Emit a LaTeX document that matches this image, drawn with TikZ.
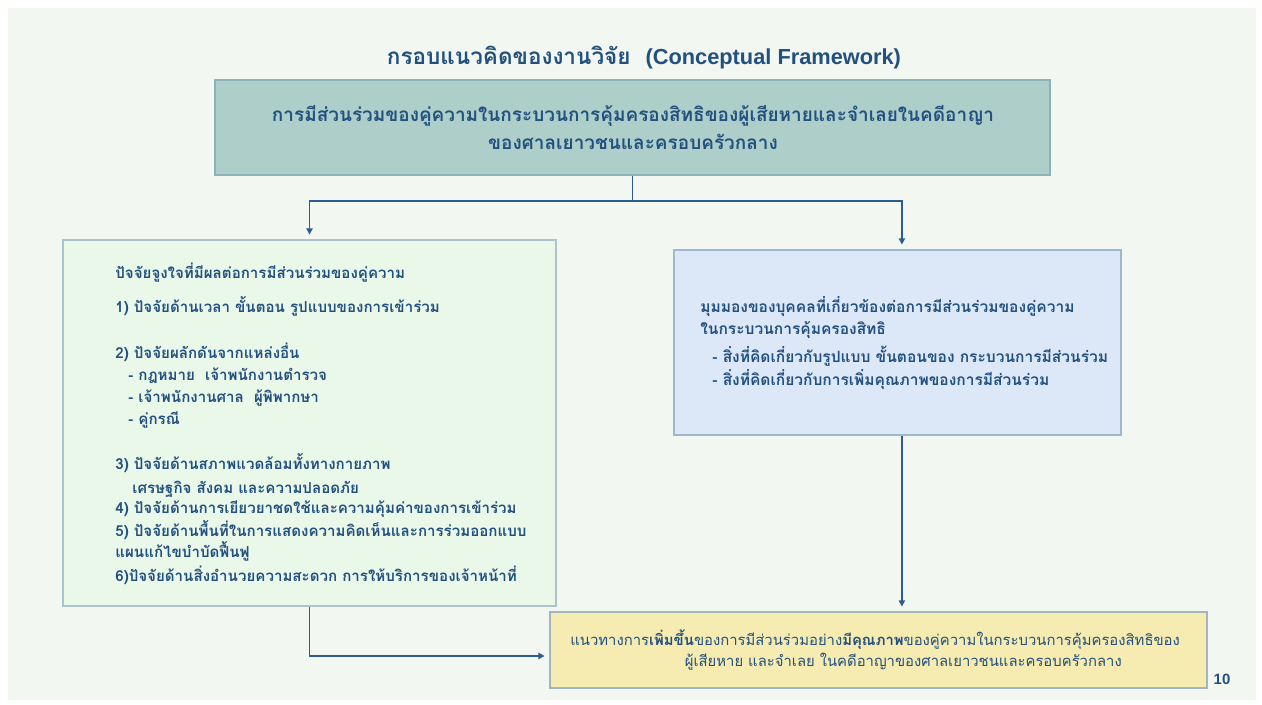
\documentclass[tikz,border=0pt]{standalone}
\usepackage{fontspec}
\setmainfont[Script=Thai]{Loma}
\newfontfamily\latinfont{Liberation Sans}
\usetikzlibrary{arrows.meta}
\definecolor{bgc}{HTML}{F3F7F1}
\definecolor{txtc}{HTML}{22507F}
\definecolor{arrc}{HTML}{2E5C90}
\definecolor{topfill}{HTML}{AECFC9}
\definecolor{topdraw}{HTML}{8DB3B9}
\definecolor{lfill}{HTML}{EAF8E9}
\definecolor{ldraw}{HTML}{A9C4CD}
\definecolor{rfill}{HTML}{DCE8F8}
\definecolor{rdraw}{HTML}{A0B7D2}
\definecolor{bfill}{HTML}{F6EBB0}
\definecolor{bdraw}{HTML}{A3B6C0}
\tikzset{
  box/.style={draw, line width=1.2pt, inner sep=0pt},
  txt/.style={anchor=base west, inner sep=0pt, text=txtc, font=\bfseries\fontsize{8.6pt}{10pt}\selectfont},
  rtxt/.style={anchor=base west, inner sep=0pt, text=txtc, font=\bfseries\fontsize{8.85pt}{10pt}\selectfont},
  btxt/.style={anchor=base west, inner sep=0pt, text=txtc, font=\fontsize{8.45pt}{10pt}\selectfont},
  conn/.style={draw=arrc, line width=1.1pt, -{Triangle[length=3.5pt,width=3.5pt]}, shorten >=2.5pt},
  link/.style={draw=arrc, line width=1.1pt}
}
\begin{document}
\begin{tikzpicture}[x=0.02cm,y=-0.02cm]
\useasboundingbox (0,0) rectangle (1262,704);
\fill[white] (0,0) rectangle (1262,704);
\fill[bgc] (8,8) rectangle (1256,700);

\node[text=txtc, font=\bfseries\fontsize{12.8pt}{15pt}\selectfont, anchor=base, inner sep=0pt] (title) at (644,64) {กรอบแนวคิดของงานวิจัย\ \ {\latinfont\fontsize{12.4pt}{15pt}\selectfont (Conceptual Framework)}};

\node[box, draw=topdraw, fill=topfill, minimum width=16.7cm, minimum height=1.9cm] (top) at (632.5,127.5) {};
\node[text=txtc, font=\bfseries\fontsize{10.8pt}{12pt}\selectfont, anchor=base, inner sep=0pt] (top1) at (633,121) {การมีส่วนร่วมของคู่ความในกระบวนการคุ้มครองสิทธิของผู้เสียหายและจำเลยในคดีอาญา};
\node[text=txtc, font=\bfseries\fontsize{10.8pt}{12pt}\selectfont, anchor=base, inner sep=0pt] (top2) at (633,149) {ของศาลเยาวชนและครอบครัวกลาง};

\node[box, draw=ldraw, fill=lfill, minimum width=9.86cm, minimum height=7.32cm] (lf) at (309.5,423) {};
\node[txt] (l0) at (115,278) {ปัจจัยจูงใจที่มีผลต่อการมีส่วนร่วมของคู่ความ};
\node[txt] (l1) at (115,312) {1) ปัจจัยด้านเวลา ขั้นตอน รูปแบบของการเข้าร่วม};
\node[txt] (l2) at (115,358) {2) ปัจจัยผลักดันจากแหล่งอื่น};
\node[txt] (l2a) at (128,380) {- กฎหมาย\ \ เจ้าพนักงานตำรวจ};
\node[txt] (l2b) at (128,402) {- เจ้าพนักงานศาล\ \ ผู้พิพากษา};
\node[txt] (l2c) at (128,424) {- คู่กรณี};
\node[txt] (l3) at (115,469) {3) ปัจจัยด้านสภาพแวดล้อมทั้งทางกายภาพ};
\node[txt] (l3b) at (132,493) {เศรษฐกิจ สังคม และความปลอดภัย};
\node[txt] (l4) at (115,513) {4) ปัจจัยด้านการเยียวยาชดใช้และความคุ้มค่าของการเข้าร่วม};
\node[txt] (l5) at (115,536) {5) ปัจจัยด้านพื้นที่ในการแสดงความคิดเห็นและการร่วมออกแบบ};
\node[txt] (l5b) at (115,557) {แผนแก้ไขบำบัดฟื้นฟู};
\node[txt] (l6) at (115,581) {6)ปัจจัยด้านสิ่งอำนวยความสะดวก การให้บริการของเจ้าหน้าที่};

\node[box, draw=rdraw, fill=rfill, minimum width=8.94cm, minimum height=3.7cm] (rt) at (897.5,342.5) {};
\node[rtxt] (r1) at (700,312) {มุมมองของบุคคลที่เกี่ยวข้องต่อการมีส่วนร่วมของคู่ความ};
\node[rtxt] (r2) at (700,334) {ในกระบวนการคุ้มครองสิทธิ};
\node[rtxt] (r3) at (712,362) {- สิ่งที่คิดเกี่ยวกับรูปแบบ ขั้นตอนของ กระบวนการมีส่วนร่วม};
\node[rtxt] (r4) at (712,385) {- สิ่งที่คิดเกี่ยวกับการเพิ่มคุณภาพของการมีส่วนร่วม};

\node[box, draw=bdraw, fill=bfill, minimum width=13.14cm, minimum height=1.52cm] (bt) at (878.5,650) {};
\node[btxt] (b1) at (570,645) {แนวทางการ\textbf{เพิ่มขึ้น}ของการมีส่วนร่วมอย่าง\textbf{มีคุณภาพ}ของคู่ความในกระบวนการคุ้มครองสิทธิของ};
\node[btxt, anchor=base east] (b2) at (1122,666) {ผู้เสียหาย และจำเลย ในคดีอาญาของศาลเยาวชนและครอบครัวกลาง};

\node[text=txtc, font=\latinfont\bfseries\fontsize{8.5pt}{10pt}\selectfont, anchor=base, inner sep=0pt] (pg) at (1222,684) {10};

\draw[link] (top.south) -- ++(0,25) coordinate (sp);
\draw[conn] (sp) -| (lf.north);
\draw[conn] (sp) -| ([xshift=2.5pt]rt.north);
\draw[conn] ([xshift=2.5pt]rt.south) -- ([xshift=2.5pt]rt.south |- bt.north);
\draw[conn] (lf.south) |- ([yshift=-3.4pt]bt.west);
\end{tikzpicture}
\end{document}
